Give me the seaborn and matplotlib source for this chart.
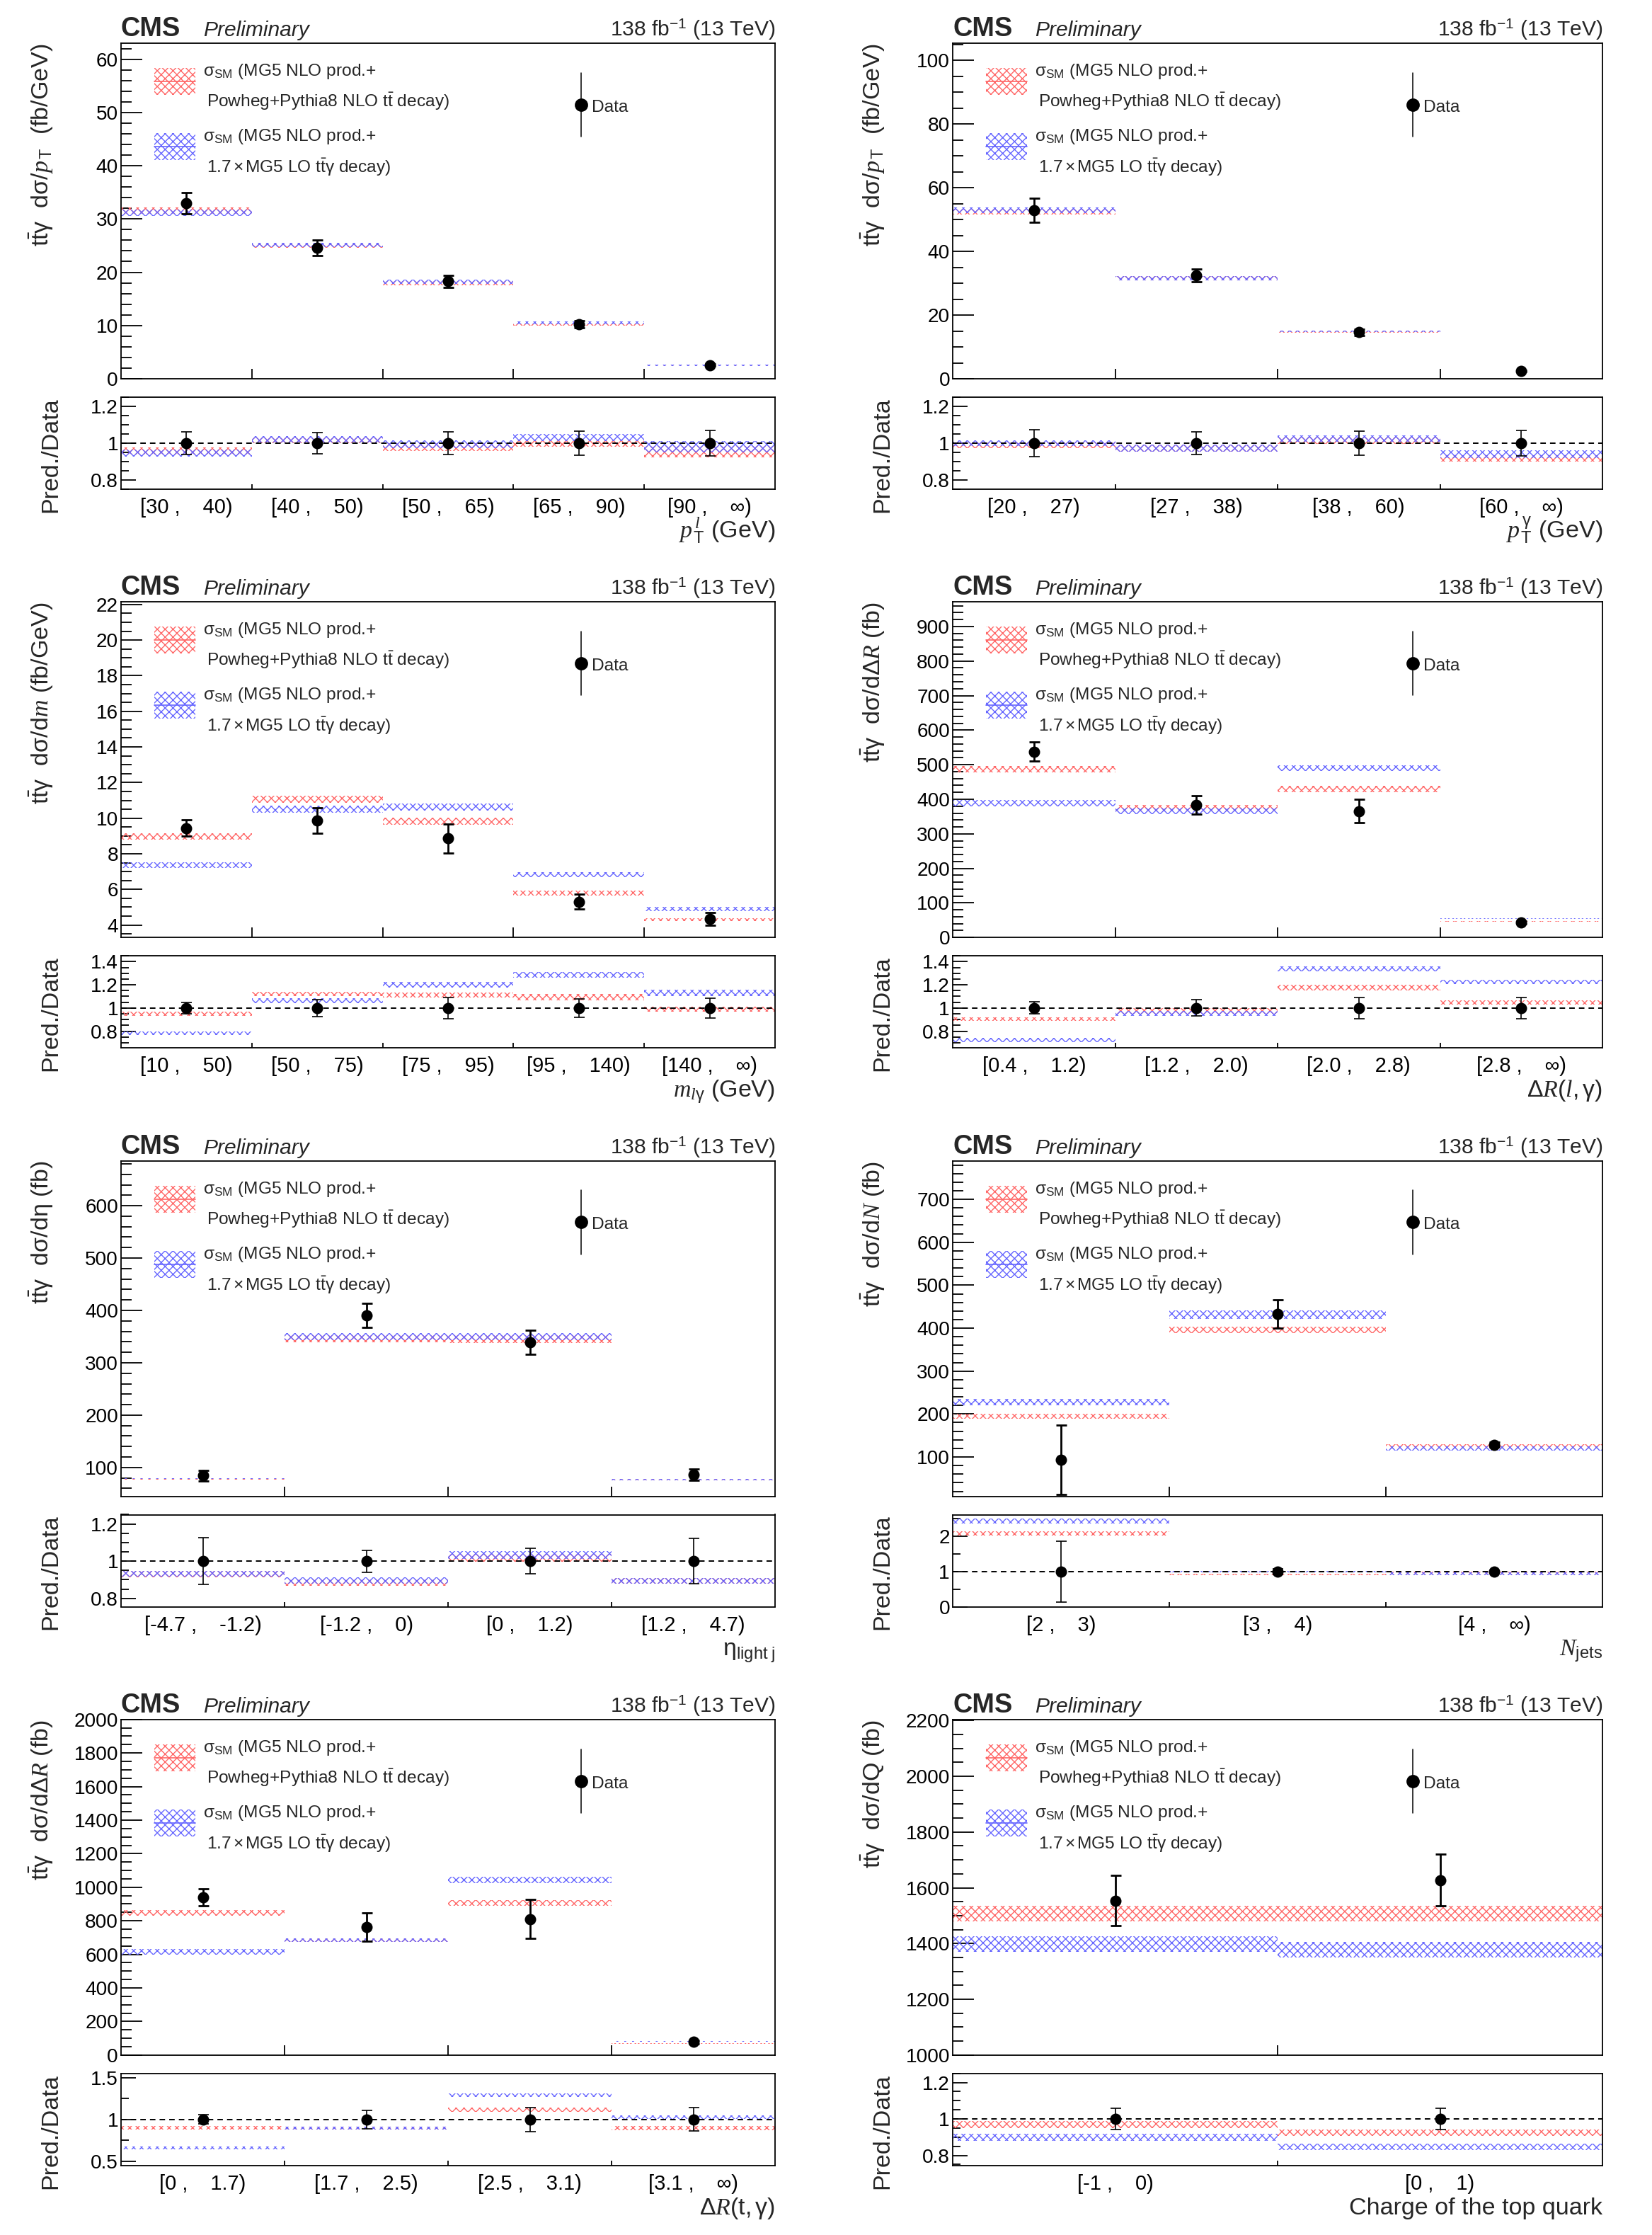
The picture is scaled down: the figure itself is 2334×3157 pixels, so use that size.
import numpy as np
import matplotlib
matplotlib.use("Agg")
import matplotlib.pyplot as plt
import matplotlib.patches as mpatches
from matplotlib.lines import Line2D
from matplotlib.ticker import MultipleLocator, FixedLocator, FuncFormatter
import seaborn as sns

# ---------------- data ----------------
# 1: lepton pT
ptl_bins = ["[30 ,    40)", "[40 ,    50)", "[50 ,    65)", "[65 ,    90)", "[90 ,    \u221e)"]
ptl_data = [33.0, 24.6, 18.3, 10.2, 2.57]
ptl_err = [2.0, 1.45, 1.1, 0.66, 0.18]
ptl_red = [31.6, 25.0, 17.9, 10.2, 2.45]
ptl_red_unc = [0.6, 0.4, 0.4, 0.2, 0.08]
ptl_blue = [31.2, 25.1, 18.2, 10.5, 2.52]
ptl_blue_unc = [0.6, 0.4, 0.4, 0.2, 0.08]

# 2: photon pT
ptg_bins = ["[20 ,    27)", "[27 ,    38)", "[38 ,    60)", "[60 ,    \u221e)"]
ptg_data = [52.9, 32.5, 14.6, 2.4]
ptg_err = [3.8, 1.95, 0.96, 0.17]
ptg_red = [52.4, 31.6, 14.8, 2.2]
ptg_red_unc = [0.9, 0.6, 0.28, 0.04]
ptg_blue = [52.9, 31.6, 14.95, 2.26]
ptg_blue_unc = [0.9, 0.6, 0.25, 0.05]

# 3: m(l,gamma)
mlg_bins = ["[10 ,    50)", "[50 ,    75)", "[75 ,    95)", "[95 ,    140)", "[140 ,    \u221e)"]
mlg_data = [9.44, 9.86, 8.86, 5.3, 4.34]
mlg_err = [0.45, 0.72, 0.81, 0.42, 0.37]
mlg_red = [8.98, 11.06, 9.84, 5.8, 4.3]
mlg_red_unc = [0.17, 0.2, 0.2, 0.14, 0.09]
mlg_blue = [7.36, 10.5, 10.64, 6.82, 4.9]
mlg_blue_unc = [0.15, 0.2, 0.2, 0.13, 0.12]

# 4: dR(l,gamma)
drlg_bins = ["[0.4 ,    1.2)", "[1.2 ,    2.0)", "[2.0 ,    2.8)", "[2.8 ,    \u221e)"]
drlg_data = [538, 384, 366, 44]
drlg_err = [28, 27, 34, 4]
drlg_red = [487, 374, 430, 46]
drlg_red_unc = [9, 9, 9, 0.8]
drlg_blue = [389, 366, 490, 54]
drlg_blue_unc = [9, 9, 8, 0.8]

# 5: eta light jet
eta_bins = ["[-4.7 ,    -1.2)", "[-1.2 ,    0)", "[0 ,    1.2)", "[1.2 ,    4.7)"]
eta_data = [84.4, 391, 339, 86.4]
eta_err = [10.5, 23, 23, 10.5]
eta_red = [78.5, 346, 345, 77.3]
eta_red_unc = [1.3, 7, 7, 1.3]
eta_blue = [78.8, 350, 350, 77.3]
eta_blue_unc = [1.3, 7, 7, 1.3]

# 6: N jets
nj_bins = ["[2 ,    3)", "[3 ,    4)", "[4 ,    \u221e)"]
nj_data = [93.4, 433, 128.6]
nj_err = [81, 33, 6]
nj_red = [195, 396, 124]
nj_red_unc = [6, 8, 5]
nj_blue = [228, 431.5, 120]
nj_blue_unc = [7, 10, 5]

# 7: dR(t,gamma)
drtg_bins = ["[0 ,    1.7)", "[1.7 ,    2.5)", "[2.5 ,    3.1)", "[3.1 ,    \u221e)"]
drtg_data = [940, 762, 811, 78]
drtg_err = [50, 83, 115, 11]
drtg_red = [847, 684, 906, 70]
drtg_red_unc = [17, 12, 18, 2]
drtg_blue = [616, 684, 1044, 80]
drtg_blue_unc = [16, 12, 18, 1.6]

# 8: top-quark charge
q_bins = ["[-1 ,    0)", "[0 ,    1)"]
q_data = [1554, 1628]
q_err = [91, 93]
q_red = [1507, 1507]
q_red_unc = [28, 28]
q_blue = [1398, 1377]
q_blue_unc = [28, 28]

# ---------------- style ----------------
W, H = 2334, 3157
DPI = 200
PT = 72.0 / DPI  # points per pixel

sns.set_style("ticks")
plt.rcParams.update({
    "font.family": ["Liberation Sans", "DejaVu Sans"],
    "mathtext.fontset": "custom",
    "mathtext.rm": "Liberation Sans",
    "mathtext.it": "Liberation Serif:italic",
    "mathtext.bf": "Liberation Sans:bold",
    "mathtext.sf": "Liberation Sans",
    "hatch.linewidth": 0.5,
    "axes.linewidth": 0.65,
    "axes.edgecolor": "black",
    "xtick.color": "black",
    "ytick.color": "black",
})

RED = "#ff6666"
BLUE = "#6666ff"
HATCH = "xxxxxx"

TTG = r"$\mathrm{t\bar{t}\gamma}$  d$\mathrm{\sigma}$/"
panels = [
    dict(bins=ptl_bins, data=ptl_data, err=ptl_err, red=ptl_red, red_unc=ptl_red_unc,
         blue=ptl_blue, blue_unc=ptl_blue_unc, ylim=(0, 63.0), major=10, minor=2,
         rlim=(0.75, 1.25), rmajor=[0.8, 1.0, 1.2], rminor=0.05,
         ylabel=TTG + r"$p_{\,\mathrm{T}}$  (fb/GeV)", xlabel=r"$p_{\,\mathrm{T}}^{\,l}$ (GeV)"),
    dict(bins=ptg_bins, data=ptg_data, err=ptg_err, red=ptg_red, red_unc=ptg_red_unc,
         blue=ptg_blue, blue_unc=ptg_blue_unc, ylim=(0, 105.4), major=20, minor=5,
         rlim=(0.75, 1.25), rmajor=[0.8, 1.0, 1.2], rminor=0.05,
         ylabel=TTG + r"$p_{\,\mathrm{T}}$  (fb/GeV)", xlabel=r"$p_{\,\mathrm{T}}^{\,\mathrm{\gamma}}$ (GeV)"),
    dict(bins=mlg_bins, data=mlg_data, err=mlg_err, red=mlg_red, red_unc=mlg_red_unc,
         blue=mlg_blue, blue_unc=mlg_blue_unc, ylim=(3.3, 22.14), major=2, minor=0.5,
         rlim=(0.655, 1.45), rmajor=[0.8, 1.0, 1.2, 1.4], rminor=0.05,
         ylabel=TTG + r"d$m$ (fb/GeV)", xlabel=r"$m_{l\mathrm{\gamma}}$ (GeV)"),
    dict(bins=drlg_bins, data=drlg_data, err=drlg_err, red=drlg_red, red_unc=drlg_red_unc,
         blue=drlg_blue, blue_unc=drlg_blue_unc, ylim=(0, 971), major=100, minor=20,
         rlim=(0.655, 1.45), rmajor=[0.8, 1.0, 1.2, 1.4], rminor=0.05,
         ylabel=TTG + r"d$\mathrm{\Delta}R$ (fb)", xlabel=r"$\mathrm{\Delta}R\mathrm{(}l\mathrm{,\gamma)}$"),
    dict(bins=eta_bins, data=eta_data, err=eta_err, red=eta_red, red_unc=eta_red_unc,
         blue=eta_blue, blue_unc=eta_blue_unc, ylim=(45, 686), major=100, minor=20,
         rlim=(0.755, 1.25), rmajor=[0.8, 1.0, 1.2], rminor=0.05,
         ylabel=TTG + r"d$\mathrm{\eta}$ (fb)", xlabel=r"$\mathrm{\eta_{light\ j}}$"),
    dict(bins=nj_bins, data=nj_data, err=nj_err, red=nj_red, red_unc=nj_red_unc,
         blue=nj_blue, blue_unc=nj_blue_unc, ylim=(8.5, 790), major=100, minor=20,
         rlim=(0.0, 2.62), rmajor=[0, 1, 2], rminor=0.5,
         ylabel=TTG + r"d$N$ (fb)", xlabel=r"$N_{\mathrm{jets}}$"),
    dict(bins=drtg_bins, data=drtg_data, err=drtg_err, red=drtg_red, red_unc=drtg_red_unc,
         blue=drtg_blue, blue_unc=drtg_blue_unc, ylim=(0, 2000), major=200, minor=50,
         rlim=(0.45, 1.55), rmajor=[0.5, 1.0, 1.5], rminor=0.25,
         ylabel=TTG + r"d$\mathrm{\Delta}R$ (fb)", xlabel=r"$\mathrm{\Delta}R\mathrm{(t,\gamma)}$"),
    dict(bins=q_bins, data=q_data, err=q_err, red=q_red, red_unc=q_red_unc,
         blue=q_blue, blue_unc=q_blue_unc, ylim=(1000, 2204), major=200, minor=50,
         rlim=(0.745, 1.25), rmajor=[0.8, 1.0, 1.2], rminor=0.05,
         ylabel=TTG + r"dQ (fb)", xlabel="Charge of the top quark"),
]

fig = plt.figure(figsize=(W / DPI, H / DPI), dpi=DPI)
fig.patch.set_facecolor("white")

COLS = [(171, 1095), (1346, 2264)]
ROW_H = H / 4.0


def fx(x):
    return x / W


def fy(y):
    return 1 - y / H


fmt = FuncFormatter(lambda v, p: f"{v:g}")


def draw_panel(idx, p):
    r, c = divmod(idx, 2)
    L, R = COLS[c]
    off = r * ROW_H
    T1, B1 = off + 61, off + 535
    T2, B2 = off + 561, off + 691
    ax = fig.add_axes([fx(L), fy(B1), (R - L) / W, (B1 - T1) / H])
    rax = fig.add_axes([fx(L), fy(B2), (R - L) / W, (B2 - T2) / H])

    n = len(p["bins"])
    xc = np.arange(n) + 0.5
    data = np.asarray(p["data"], float)
    err = np.asarray(p["err"], float)

    for vals, unc, col in [(p["red"], p["red_unc"], RED), (p["blue"], p["blue_unc"], BLUE)]:
        vals = np.asarray(vals, float)
        unc = np.asarray(unc, float)
        ax.bar(xc, 2 * unc, bottom=vals - unc, width=1.0, fill=False, hatch=HATCH,
               edgecolor=col, linewidth=0, zorder=2)
        rax.bar(xc, 2 * unc / data, bottom=(vals - unc) / data, width=1.0, fill=False,
                hatch=HATCH, edgecolor=col, linewidth=0, zorder=2)

    # data points
    ax.errorbar(xc, data, yerr=err, fmt="none", ecolor="black", elinewidth=1.0,
                capsize=7.5 * PT, capthick=1.0, zorder=4)
    sns.scatterplot(x=xc, y=data, ax=ax, color="black", s=(16 * PT) ** 2, marker="o",
                    edgecolor="black", linewidth=0, zorder=5, legend=False)

    rax.axhline(1.0, color="black", lw=0.7, ls=(0, (4, 3)), zorder=3)
    rax.errorbar(xc, np.ones(n), yerr=err / data, fmt="none", ecolor="black",
                 elinewidth=0.6, capsize=7.5 * PT, capthick=0.6, zorder=4)
    sns.scatterplot(x=xc, y=np.ones(n), ax=rax, color="black", s=(16 * PT) ** 2, marker="o",
                    edgecolor="black", linewidth=0, zorder=5, legend=False)

    # axes cosmetics
    for a in (ax, rax):
        a.set_xlim(0, n)
        a.set_xlabel("")
        a.set_ylabel("")
        for s in a.spines.values():
            s.set_linewidth(0.65)
            s.set_visible(True)
    ax.set_ylim(*p["ylim"])
    ax.yaxis.set_major_locator(MultipleLocator(p["major"]))
    ax.yaxis.set_minor_locator(MultipleLocator(p["minor"]))
    ax.yaxis.set_major_formatter(fmt)
    ax.set_xticks(np.arange(1, n))
    ax.set_xticklabels([])
    ax.tick_params(axis="y", which="major", direction="in", length=30 * PT, width=0.65,
                   labelsize=28 * PT, pad=4 * PT, right=False, left=True)
    ax.tick_params(axis="y", which="minor", direction="in", length=15 * PT, width=0.65,
                   right=False, left=True)
    ax.tick_params(axis="x", which="major", direction="in", length=14 * PT, width=0.65,
                   top=False, bottom=True, labelbottom=False)
    ax.tick_params(axis="x", which="minor", bottom=False, top=False)

    rax.set_ylim(*p["rlim"])
    rax.yaxis.set_major_locator(FixedLocator(p["rmajor"]))
    rax.yaxis.set_minor_locator(MultipleLocator(p["rminor"]))
    rax.yaxis.set_major_formatter(fmt)
    rax.set_xticks(np.arange(1, n))
    rax.set_xticklabels([])
    rax.set_xticks(xc, minor=True)
    rax.set_xticklabels(p["bins"], minor=True)
    rax.tick_params(axis="y", which="major", direction="in", length=21 * PT, width=0.65,
                    labelsize=28 * PT, pad=4 * PT, right=False, left=True)
    rax.tick_params(axis="y", which="minor", direction="in", length=11 * PT, width=0.65,
                    right=False, left=True)
    rax.tick_params(axis="x", which="major", direction="in", length=7 * PT, width=0.65,
                    top=False, bottom=True)
    rax.tick_params(axis="x", which="minor", length=0, pad=12 * PT, labelsize=29 * PT)

    # titles
    fig.text(fx(L), fy(off + 51), "CMS", fontsize=38 * PT, fontweight="bold",
             ha="left", va="baseline")
    fig.text(fx(L + 116), fy(off + 51), "Preliminary", fontsize=30 * PT, style="italic",
             ha="left", va="baseline")
    fig.text(fx(R), fy(off + 51), r"138 fb$^{\mathrm{-1}}$ (13 TeV)", fontsize=30 * PT,
             ha="right", va="baseline")

    # axis labels
    fig.text(fx(L - 113), fy(T1), p["ylabel"], rotation=90, fontsize=34 * PT,
             ha="center", va="top")
    fig.text(fx(L - 99), fy(T2), "Pred./Data", rotation=90, fontsize=34 * PT,
             ha="center", va="top")
    fig.text(fx(R), fy(off + 760), p["xlabel"], fontsize=34 * PT, ha="right", va="baseline")

    # legend: hatched boxes
    for (y0, y1), col in [((96, 134), RED), ((188, 226), BLUE)]:
        rect = mpatches.Rectangle((fx(L + 47), fy(off + y1)), 58 / W, (y1 - y0) / H,
                                  transform=fig.transFigure, fill=False, hatch=HATCH,
                                  edgecolor=col, linewidth=0)
        fig.add_artist(rect)
        ym = off + (y0 + y1) / 2
        fig.add_artist(Line2D([fx(L + 47), fx(L + 105)], [fy(ym), fy(ym)],
                              transform=fig.transFigure, color=col, lw=0.6))
    lfs = 24.5 * PT
    fig.text(fx(L + 116), fy(off + 107), r"$\mathrm{\sigma_{SM}}$ (MG5 NLO prod.+",
             fontsize=lfs, ha="left", va="baseline")
    fig.text(fx(L + 121), fy(off + 151), r"Powheg+Pythia8 NLO $\mathrm{t\bar{t}}$ decay)",
             fontsize=lfs, ha="left", va="baseline")
    fig.text(fx(L + 116), fy(off + 199), r"$\mathrm{\sigma_{SM}}$ (MG5 NLO prod.+",
             fontsize=lfs, ha="left", va="baseline")
    fig.text(fx(L + 121), fy(off + 244),
             r"1.7$\,\mathrm{\times}\,$MG5 LO $\mathrm{t\bar{t}\gamma}$ decay)",
             fontsize=lfs, ha="left", va="baseline")
    # legend: data
    mx = L + 650
    fig.add_artist(Line2D([fx(mx), fx(mx)], [fy(off + 103), fy(off + 193)],
                          transform=fig.transFigure, color="black", lw=0.55))
    fig.add_artist(Line2D([fx(mx)], [fy(off + 148)], transform=fig.transFigure,
                          marker="o", color="black", markersize=16 * PT, linestyle="none"))
    fig.text(fx(L + 665), fy(off + 158), "Data", fontsize=lfs, ha="left", va="baseline")


for i, p in enumerate(panels):
    draw_panel(i, p)

fig.savefig("out.png", dpi=DPI, facecolor="white")
